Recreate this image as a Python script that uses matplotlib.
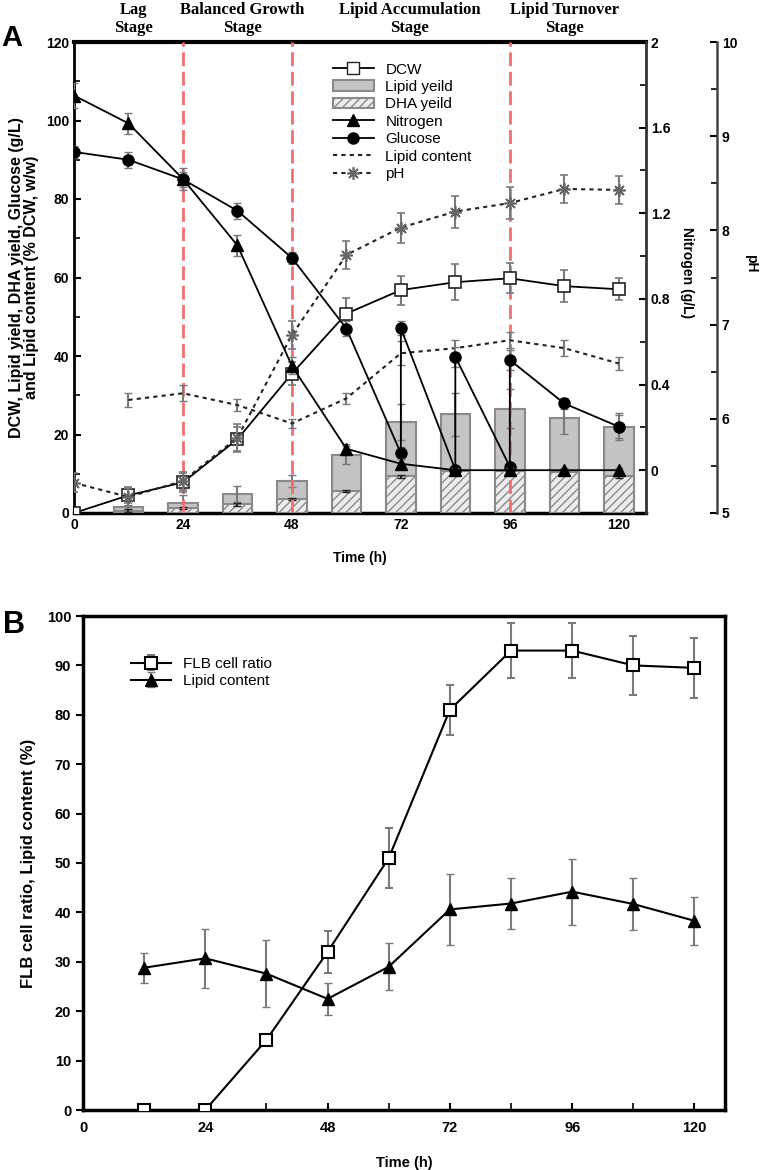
import numpy as np
import matplotlib
matplotlib.use('Agg')
import matplotlib.pyplot as plt
from matplotlib.transforms import blended_transform_factory
from matplotlib.lines import Line2D
from matplotlib.patches import Patch
from matplotlib.ticker import MultipleLocator, FixedLocator

plt.rcParams['font.family'] = ['Liberation Sans', 'DejaVu Sans']
plt.rcParams['font.weight'] = 'bold'
plt.rcParams['hatch.color'] = '#6a6a6a'
plt.rcParams['hatch.linewidth'] = 1.0

# ---------------- Panel A data ----------------
time = [0, 12, 24, 36, 48, 60, 72, 84, 96, 108, 120]
dcw = [0, 4.5, 7.8, 18.8, 35.5, 50.8, 56.8, 58.8, 59.8, 57.8, 57.0]
dcw_err = [0, 2.0, 2.5, 3.0, 3.0, 4.0, 3.7, 4.6, 3.8, 4.0, 2.8]

bar_time = [12, 24, 36, 48, 60, 72, 84, 96, 108, 120]
lipid_yield = [1.5, 2.6, 4.8, 8.2, 14.8, 23.2, 25.1, 26.6, 24.3, 22.0]
lipid_yield_err = [0.5, 2.0, 2.0, 1.6, 2.2, 4.5, 5.5, 5.0, 4.2, 3.4]
dha_yield = [0.6, 1.2, 2.2, 3.6, 5.6, 9.3, 10.8, 10.8, 10.5, 9.3]
dha_yield_err = [0.3, 0.3, 0.3, 0.3, 0.3, 0.5, 0.5, 0.5, 0.5, 0.5]

nitrogen = [1.75, 1.62, 1.36, 1.05, 0.487, 0.10, 0.03, 0.0, 0.0, 0.0, 0.0]
nitrogen_err = [0.06, 0.05, 0.05, 0.05, 0.04, 0.02, 0.02, 0.01, 0.01, 0.01, 0.01]

glucose_time = [0, 12, 24, 36, 48, 60, 72, 72, 84, 84, 96, 96, 108, 120]
glucose = [92, 90, 85, 77, 65, 47, 15.2, 47.1, 11, 39.8, 11.8, 39, 27.9, 22]
glucose_err = [1.5, 2, 2, 2, 1.5, 2, 1.5, 1.8, 1, 2.5, 1, 2.5, 1.5, 3]

lipid_content_a = [28.8, 30.5, 27.5, 22.8, 29.2, 40.7, 42.0, 44.0, 42.0, 38.1]
lipid_content_a_err = [1.8, 2.0, 1.5, 1.2, 1.5, 3.0, 2.0, 2.0, 2.1, 1.7]

ph = [5.32, 5.17, 5.34, 5.80, 6.89, 7.74, 8.03, 8.20, 8.29, 8.44, 8.43]
ph_err = [0.1, 0.1, 0.1, 0.15, 0.15, 0.15, 0.16, 0.17, 0.17, 0.15, 0.15]

stage_x = [13, 37, 74, 108]
stage_labels = ['Lag\nStage', 'Balanced Growth\nStage', 'Lipid Accumulation\nStage', 'Lipid Turnover\nStage']
stage_bounds = [24, 48, 96]

# ---------------- Panel B data ----------------
time_b = [12, 24, 36, 48, 60, 72, 84, 96, 108, 120]
flb_ratio = [0, 0, 14.2, 32, 51, 81, 93, 93, 90, 89.5]
flb_err = [0, 0, 0, 4.3, 6, 5, 5.5, 5.5, 6, 6]
lipid_content_b = [28.8, 30.7, 27.6, 22.5, 29.0, 40.6, 41.8, 44.2, 41.7, 38.3]
lipid_content_b_err = [3.0, 6.0, 6.8, 3.3, 4.8, 7.2, 5.1, 6.7, 5.3, 4.9]

W, H = 760, 1170
fig = plt.figure(figsize=(W / 100, H / 100), dpi=100)

def rect(l, r, t, b):
    return [l / W, 1 - b / H, (r - l) / W, (b - t) / H]

ERR = '#7a7a7a'

# ================= Panel A =================
ax = fig.add_axes(rect(74, 646, 42, 513))
ax.set_xlim(0, 126)
ax.set_ylim(0, 120)

ax.bar(bar_time, lipid_yield, width=6.5, color='#c4c4c4', edgecolor='#8a8a8a',
       linewidth=1.5, zorder=2)
ax.errorbar(bar_time, lipid_yield, yerr=lipid_yield_err, fmt='none', ecolor=ERR,
            elinewidth=1.5, capsize=3, zorder=2.5)
ax.bar(bar_time, dha_yield, width=6.5, color='#ececec', edgecolor='#8a8a8a',
       linewidth=1.5, hatch='////', zorder=3)
ax.errorbar(bar_time, dha_yield, yerr=dha_yield_err, fmt='none', ecolor='#222222',
            elinewidth=1.5, capsize=3, zorder=3.2)

for xb in stage_bounds:
    ax.axvline(xb, color='#f07070', lw=2, linestyle=(0, (5, 2)), zorder=3.5)

ax.errorbar(bar_time, lipid_content_a, yerr=lipid_content_a_err, color='#222222',
            ecolor=ERR, elinewidth=1.5, capsize=3, linestyle=(0, (2, 2)), lw=1.5,
            zorder=4)
ax.errorbar(glucose_time, glucose, yerr=glucose_err, color='black', ecolor=ERR,
            elinewidth=1.5, capsize=3, marker='o', ms=8, lw=1.3, zorder=5)
ax.errorbar(time, dcw, yerr=dcw_err, color='black', ecolor=ERR, elinewidth=1.5,
            capsize=3, marker='s', ms=8, mfc='white', mec='#222222', mew=1.2,
            lw=1.3, zorder=5)

ax.xaxis.set_major_locator(FixedLocator([0, 24, 48, 72, 96, 120]))
ax.xaxis.set_minor_locator(FixedLocator([12, 36, 60, 84, 108]))
ax.yaxis.set_major_locator(MultipleLocator(20))
ax.yaxis.set_minor_locator(MultipleLocator(10))
ax.tick_params(axis='both', which='major', direction='in', length=5, width=1.5,
               labelsize=10)
ax.tick_params(axis='both', which='minor', direction='in', length=4, width=1.2)
ax.tick_params(axis='x', which='both', top=False)
ax.spines['top'].set_linewidth(3)
ax.spines['left'].set_linewidth(2)
ax.spines['bottom'].set_linewidth(2.5)
ax.spines['right'].set_visible(False)
ax.set_xlabel('Time (h)', fontsize=10, fontweight='bold', labelpad=14)
ax.set_ylabel('DCW, Lipid yield, DHA yield, Glucose (g/L)\nand Lipid content (% DCW, w/w)',
              fontsize=11.5, fontweight='bold', labelpad=5, linespacing=1.0)

# Nitrogen axis
ax2 = ax.twinx()
ax2.set_ylim(-0.2, 2.0)
ax2.errorbar(time, nitrogen, yerr=nitrogen_err, color='black', ecolor=ERR,
             elinewidth=1.5, capsize=3, marker='^', ms=8, lw=1.3, zorder=5)
ax2.yaxis.set_major_locator(FixedLocator([0, 0.4, 0.8, 1.2, 1.6, 2.0]))
ax2.yaxis.set_minor_locator(FixedLocator([0.2, 0.6, 1.0, 1.4, 1.8]))
ax2.set_yticklabels(['0', '0.4', '0.8', '1.2', '1.6', '2'])
ax2.tick_params(axis='y', which='major', direction='in', length=5, width=1.5,
                labelsize=10)
ax2.tick_params(axis='y', which='minor', direction='in', length=4, width=1.2)
for s in ['top', 'left', 'bottom']:
    ax2.spines[s].set_visible(False)
ax2.spines['right'].set_linewidth(2)
ax2.spines['right'].set_color('#333333')
ax2.set_ylabel('Nitrogen (g/L)', rotation=270, fontsize=10, fontweight='bold')
ax2.yaxis.label.set_va('center')
ax2.yaxis.label.set_ha('center')
ax2.yaxis.set_label_coords((687 - 74) / 572, 0.51)

# pH axis
ax3 = ax.twinx()
ax3.set_ylim(5, 10)
ax3.errorbar(time, ph, yerr=ph_err, color='#222222', ecolor=ERR,
             elinewidth=1.5, capsize=3, marker=(8, 2, 0), ms=9,
             mec='#666666', mew=1.2, linestyle=(0, (2, 2)), lw=1.5, zorder=5)
ax3.spines['right'].set_position(('axes', (717 - 74) / (646 - 74)))
for s in ['top', 'left', 'bottom']:
    ax3.spines[s].set_visible(False)
ax3.spines['right'].set_linewidth(1.8)
ax3.spines['right'].set_color('#444444')
ax3.yaxis.set_major_locator(MultipleLocator(1))
ax3.yaxis.set_minor_locator(MultipleLocator(0.5))
ax3.tick_params(axis='y', which='major', direction='in', length=5, width=1.5,
                labelsize=10)
ax3.tick_params(axis='y', which='minor', direction='in', length=4, width=1.2)
ax3.set_ylabel('pH', rotation=270, fontsize=10, fontweight='bold')
ax3.yaxis.label.set_va('center')
ax3.yaxis.label.set_ha('center')
ax3.yaxis.set_label_coords((751 - 74) / 572, 0.53)

# Stage labels
trans = blended_transform_factory(ax.transData, ax.transAxes)
for sx, sl in zip(stage_x, stage_labels):
    ax.text(sx, 1.012, sl, transform=trans, ha='center', va='bottom',
            fontsize=12, fontweight='bold', linespacing=1.2,
            family=['Liberation Serif', 'DejaVu Serif'])

handles = [
    Line2D([], [], color='black', marker='s', mfc='white', mec='#222222', ms=8, lw=1.3),
    Patch(facecolor='#c4c4c4', edgecolor='#8a8a8a', linewidth=1.5),
    Patch(facecolor='#ececec', edgecolor='#8a8a8a', linewidth=1.5, hatch='////'),
    Line2D([], [], color='black', marker='^', ms=8, lw=1.3),
    Line2D([], [], color='black', marker='o', ms=8, lw=1.3),
    Line2D([], [], color='#222222', linestyle=(0, (2, 2)), lw=1.5),
    Line2D([], [], color='#222222', linestyle=(0, (2, 2)), lw=1.5, marker=(8, 2, 0),
           ms=9, mec='#666666', mew=1.2),
]
labels = ['DCW', 'Lipid yeild', 'DHA yeild', 'Nitrogen', 'Glucose',
          'Lipid content', 'pH']
leg = ax3.legend(handles, labels, loc='upper left', bbox_to_anchor=(0.452, 0.956),
                 frameon=False, fontsize=11, handlelength=2.7, handletextpad=0.75,
                 labelspacing=0.22, borderaxespad=0, borderpad=0)
for t in leg.get_texts():
    t.set_fontweight('normal')

fig.text(12 / W, 1 - 38 / H, 'A', fontsize=21, fontweight='bold', ha='center',
         va='center')

# ================= Panel B =================
axb = fig.add_axes(rect(83, 725, 616, 1110))
axb.set_xlim(0, 126)
axb.set_ylim(0, 100)
lb1 = axb.errorbar(time_b, flb_ratio, yerr=flb_err, color='black', ecolor=ERR,
                   elinewidth=1.5, capsize=3, marker='s', ms=8, mfc='white',
                   mec='black', mew=1.5, lw=1.5, zorder=5)
lb2 = axb.errorbar(time_b, lipid_content_b, yerr=lipid_content_b_err, color='black',
                   ecolor=ERR, elinewidth=1.5, capsize=3, marker='^', ms=8, lw=1.5,
                   zorder=5)
axb.xaxis.set_major_locator(FixedLocator([0, 24, 48, 72, 96, 120]))
axb.xaxis.set_minor_locator(FixedLocator([12, 36, 60, 84, 108]))
axb.yaxis.set_major_locator(MultipleLocator(10))
axb.tick_params(axis='x', which='major', direction='in', length=5, width=1.5,
                labelsize=10.5, pad=8)
axb.tick_params(axis='x', which='minor', direction='in', length=5, width=1.2)
axb.tick_params(axis='y', which='major', direction='out', length=5, width=1.5,
                labelsize=10.5)
for s in axb.spines.values():
    s.set_linewidth(2.5)
axb.set_xlabel('Time (h)', fontsize=10.5, fontweight='bold', labelpad=15)
axb.set_ylabel('FLB cell ratio, Lipid content (%)', fontsize=12,
               fontweight='bold', labelpad=8)
legb = axb.legend([lb1, lb2], ['FLB cell ratio', 'Lipid content'], loc='upper left',
                  bbox_to_anchor=(0.075, 0.917), frameon=False, fontsize=11,
                  handlelength=2.6, handletextpad=0.8, labelspacing=0.2,
                  borderaxespad=0, borderpad=0)
for t in legb.get_texts():
    t.set_fontweight('normal')

fig.text(14 / W, 1 - 625 / H, 'B', fontsize=22, fontweight='bold', ha='center',
         va='center')

fig.savefig('out.png', dpi=100)
